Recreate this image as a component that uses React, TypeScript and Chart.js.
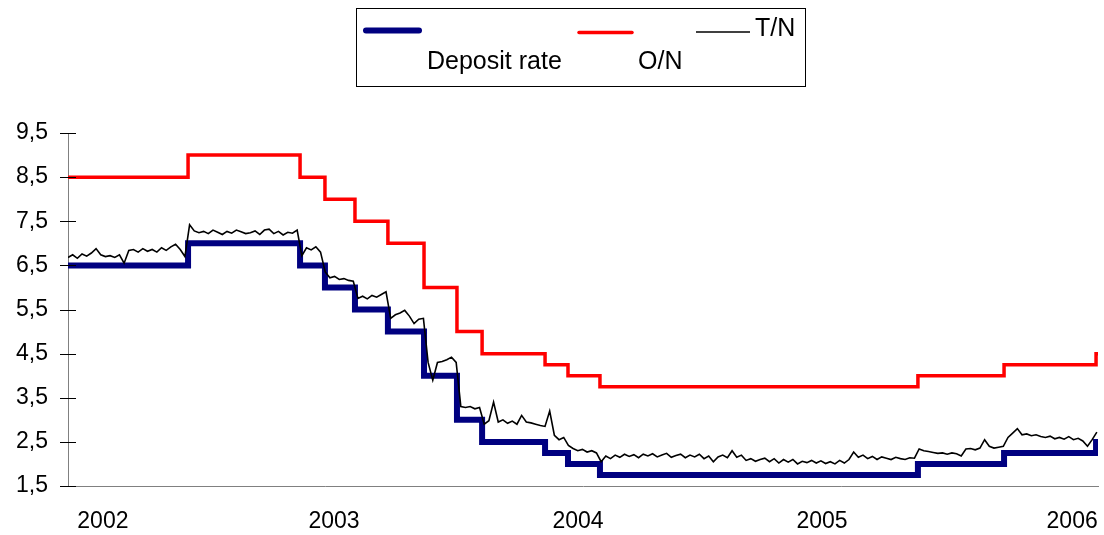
import React, { useEffect, useRef } from 'react';
import { Chart, registerables } from 'chart.js';

Chart.register(...registerables);

// ---- Data ----
const seriesLabels = ['Deposit rate', 'O/N', 'T/N'];

// dates (fractional years) at which the policy rates changed; last entry = end of data
const rateChangeDates = [
  2001.91, 2002.402, 2002.861, 2002.963, 2003.086, 2003.221, 2003.369, 2003.504,
  2003.607, 2003.865, 2003.959, 2004.09, 2005.393, 2005.746, 2006.123, 2006.131,
];
const depositRate = [6.5, 7.0, 6.5, 6.0, 5.5, 5.0, 4.0, 3.0, 2.5, 2.25, 2.0, 1.75, 2.0, 2.25, 2.5, 2.5];
const overnightRate = [8.5, 9.0, 8.5, 8.0, 7.5, 7.0, 6.0, 5.0, 4.5, 4.25, 4.0, 3.75, 4.0, 4.25, 4.5, 4.5];

// T/N market rate, weekly observations
const tnStartYear = 2001.91;
const tnWeekStep = 7 / 365.25;
const tnRate = [
  6.68, 6.74, 6.66, 6.76, 6.71, 6.78, 6.88, 6.74, 6.7, 6.72, 6.68, 6.74, 6.55, 6.84, 6.86, 6.8, 6.88, 6.82, 6.86, 6.8, 6.9, 6.84, 6.92, 6.98, 6.86, 6.7,
  7.42, 7.28, 7.24, 7.27, 7.22, 7.3, 7.25, 7.2, 7.27, 7.23, 7.3, 7.26, 7.22, 7.24, 7.28, 7.2, 7.3, 7.32, 7.22, 7.27, 7.19, 7.25, 7.23, 7.3,
  6.72, 6.9, 6.85, 6.92, 6.8,
  6.35, 6.22, 6.25, 6.18, 6.2, 6.16, 6.14,
  5.75, 5.8, 5.74, 5.82, 5.78, 5.84, 5.9,
  5.3, 5.38, 5.42, 5.48, 5.35, 5.18, 5.28, 5.3,
  4.3, 3.9, 4.3, 4.32, 4.36, 4.42, 4.3,
  3.3, 3.28, 3.3, 3.25, 3.28,
  2.9, 2.98, 3.4, 2.95, 3.0, 2.92, 2.97, 2.9, 3.1, 2.95, 2.93, 2.9, 2.87,
  2.85, 3.2, 2.65, 2.55, 2.6,
  2.42, 2.35, 2.3, 2.33, 2.27, 2.3, 2.25,
  2.05, 2.18, 2.12, 2.2, 2.15, 2.22, 2.17, 2.21, 2.14, 2.22, 2.18, 2.23, 2.16, 2.2, 2.24, 2.15, 2.19, 2.22, 2.14, 2.2,
  2.16, 2.22, 2.12, 2.18, 2.05, 2.16, 2.2, 2.14, 2.3, 2.15, 2.2, 2.08, 2.12, 2.06, 2.1, 2.13, 2.05, 2.12, 2.02, 2.1,
  2.04, 2.1, 2.0, 2.06, 2.03, 2.08, 2.02, 2.07, 2.01, 2.05, 2.0, 2.08, 2.02, 2.1, 2.27, 2.15, 2.2, 2.12, 2.17, 2.1,
  2.16, 2.13, 2.1, 2.15, 2.12, 2.1, 2.14, 2.13,
  2.34, 2.3, 2.28, 2.26, 2.24, 2.25, 2.22, 2.25, 2.23, 2.18, 2.34, 2.35, 2.32, 2.36, 2.55, 2.4, 2.36, 2.38, 2.4,
  2.6, 2.7, 2.8, 2.66, 2.68, 2.64, 2.66, 2.62, 2.6, 2.63, 2.57, 2.6, 2.56, 2.62, 2.55, 2.58, 2.52, 2.4, 2.55, 2.72,
];

// axis
const xMinYear = 2001.91;
const xMaxYear = 2006.131;
const yearTickPositions = [2002.053, 2003.0, 2004.0, 2005.0, 2006.025];
const yearTickLabels = ['2002', '2003', '2004', '2005', '2006'];
const yMin = 1.5;
const yMax = 9.5;
const yStep = 1;

const FONT = '"Liberation Sans", Arial, Helvetica, sans-serif';

const yTickMarks = {
  id: 'yTickMarks',
  afterDraw(chart: any) {
    const ys = chart.scales.y;
    const ctx = chart.ctx;
    ctx.save();
    ctx.strokeStyle = '#000';
    ctx.lineWidth = 1;
    ys.ticks.forEach((t: any) => {
      const py = Math.round(ys.getPixelForValue(t.value)) + 0.5;
      ctx.beginPath();
      ctx.moveTo(ys.right - 8, py);
      ctx.lineTo(ys.right + 8, py);
      ctx.stroke();
    });
    ctx.restore();
  },
};

const boxLegend = {
  id: 'boxLegend',
  afterDraw(chart: any) {
    const ctx = chart.ctx;
    const ds = chart.data.datasets;
    ctx.save();
    ctx.strokeStyle = '#000';
    ctx.lineWidth = 1;
    ctx.strokeRect(356.5, 8.5, 449, 78);
    // samples
    ctx.lineCap = 'round';
    ctx.strokeStyle = ds[2].borderColor;
    ctx.lineWidth = 6;
    ctx.beginPath();
    ctx.moveTo(366, 30.5);
    ctx.lineTo(419, 30.5);
    ctx.stroke();
    ctx.strokeStyle = ds[1].borderColor;
    ctx.lineWidth = 3.5;
    ctx.beginPath();
    ctx.moveTo(579, 32.5);
    ctx.lineTo(632, 32.5);
    ctx.stroke();
    ctx.lineCap = 'butt';
    ctx.strokeStyle = ds[0].borderColor;
    ctx.lineWidth = 1.5;
    ctx.beginPath();
    ctx.moveTo(696, 32);
    ctx.lineTo(750, 32);
    ctx.stroke();
    // texts
    ctx.fillStyle = '#000';
    ctx.font = `25px ${FONT}`;
    ctx.textBaseline = 'middle';
    ctx.textAlign = 'left';
    ctx.fillText(ds[0].label, 755, 29.5);
    ctx.fillText(ds[2].label, 427, 62);
    ctx.fillText(ds[1].label, 638, 62);
    ctx.restore();
  },
};

export default function App() {
  const canvasRef = useRef<HTMLCanvasElement | null>(null);

  useEffect(() => {
    document.body.style.margin = '0';
    const canvas = canvasRef.current;
    if (!canvas) return;

    const stepData = (vals: number[]) => rateChangeDates.map((d, i) => ({ x: d, y: vals[i] }));
    const tnData = tnRate.map((v, i) => ({ x: tnStartYear + i * tnWeekStep, y: v }));

    const chart = new Chart(canvas, {
      type: 'line',
      data: {
        datasets: [
          {
            label: seriesLabels[2],
            data: tnData,
            borderColor: '#000000',
            borderWidth: 1.6,
            pointRadius: 0,
            tension: 0,
            order: 0,
          },
          {
            label: seriesLabels[1],
            data: stepData(overnightRate),
            borderColor: '#FF0000',
            borderWidth: 3.5,
            pointRadius: 0,
            stepped: true,
            order: 1,
          },
          {
            label: seriesLabels[0],
            data: stepData(depositRate),
            borderColor: '#000080',
            borderWidth: 6,
            pointRadius: 0,
            stepped: true,
            order: 2,
          },
        ],
      },
      options: {
        responsive: false,
        animation: false,
        events: [],
        layout: { padding: { top: 133, right: 6, left: 0, bottom: 0 } },
        plugins: {
          legend: { display: false },
          tooltip: { enabled: false },
          title: { display: false },
        },
        scales: {
          x: {
            type: 'linear',
            min: xMinYear,
            max: xMaxYear,
            afterBuildTicks: (s: any) => {
              s.ticks = yearTickPositions.map((v) => ({ value: v }));
            },
            afterFit: (s: any) => {
              s.height = 49;
              s.paddingLeft = 0;
              s.paddingRight = 0;
            },
            ticks: {
              autoSkip: false,
              maxRotation: 0,
              padding: 22,
              color: '#000',
              font: { family: FONT, size: 23 },
              callback: (_v: any, i: number) => yearTickLabels[i],
            },
            grid: { display: true, drawOnChartArea: false, drawTicks: false },
            border: { display: true, color: '#808080', width: 1 },
          },
          y: {
            type: 'linear',
            min: yMin,
            max: yMax,
            afterFit: (s: any) => {
              s.width = 68;
              s.paddingTop = 0;
              s.paddingBottom = 0;
            },
            ticks: {
              stepSize: yStep,
              padding: 20,
              color: '#000',
              font: { family: FONT, size: 23 },
              callback: (v: any) => Number(v).toFixed(1).replace('.', ','),
            },
            grid: { display: true, drawOnChartArea: false, drawTicks: false },
            border: { display: true, color: '#808080', width: 1 },
          },
        },
      },
      plugins: [yTickMarks, boxLegend],
    });

    return () => {
      chart.destroy();
    };
  }, []);

  return (
    <div style={{ width: 1104, height: 535, background: '#fff' }}>
      <canvas ref={canvasRef} width={1104} height={535} style={{ display: 'block' }} />
    </div>
  );
}
